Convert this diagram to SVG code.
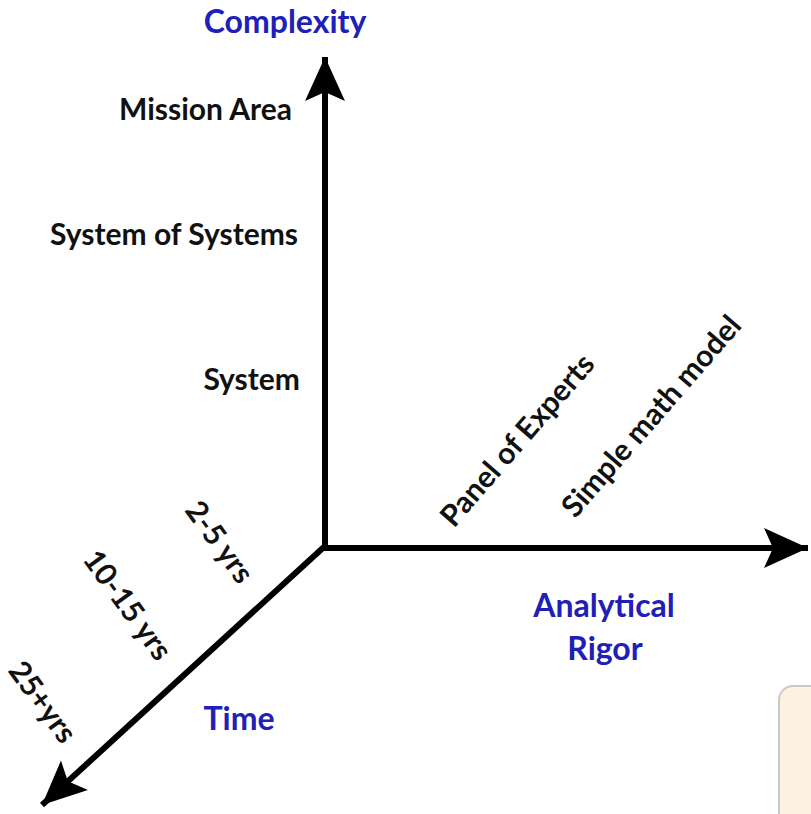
<svg xmlns="http://www.w3.org/2000/svg" width="811" height="814" viewBox="0 0 811 814">
  <style>
    .lbl { font-family: Lato, "Open Sans", "Liberation Sans", sans-serif; font-weight: bold; font-size: 30px; fill: #111; }
    .axis-title { fill: #2020b8; font-size: 32px; }
    .axis { stroke: #000; stroke-width: 6; fill: none; }
  </style>
  <defs>
    <marker id="head" markerUnits="userSpaceOnUse" markerWidth="50" markerHeight="50" viewBox="-46 -25 50 50" refX="0" refY="0" orient="auto">
      <path d="M0,0 L-44,-20 L-35,0 L-44,20 Z" fill="#000"/>
    </marker>
  </defs>
  <rect width="811" height="814" fill="#fff"/>

  <!-- note box peeking in at bottom right -->
  <g id="note-box">
    <rect x="779" y="686" width="80" height="160" rx="14" fill="#fdf1e1" stroke="#c9c9c9" stroke-width="2"/>
  </g>

  <!-- axes -->
  <g id="connectors">
    <line class="axis" x1="325" y1="549" x2="325" y2="57" marker-end="url(#head)"/>
    <line class="axis" x1="322" y1="548" x2="808" y2="548" marker-end="url(#head)"/>
    <line class="axis" x1="325" y1="546" x2="42" y2="805" marker-end="url(#head)"/>
  </g>

  <g id="complexity-axis">
    <text class="lbl axis-title" x="285" y="33" text-anchor="middle">Complexity</text>
    <text class="lbl" x="292" y="120" text-anchor="end">Mission Area</text>
    <text class="lbl" x="298" y="245" text-anchor="end">System of Systems</text>
    <text class="lbl" x="300" y="390" text-anchor="end">System</text>
  </g>

  <g id="rigor-axis">
    <text class="lbl axis-title" x="604" y="617" text-anchor="middle">Analytical</text>
    <text class="lbl axis-title" x="605" y="660" text-anchor="middle">Rigor</text>
    <text class="lbl" x="0" y="0" text-anchor="middle" dominant-baseline="central" transform="translate(516,439) rotate(-49)">Panel of Experts</text>
    <text class="lbl" x="0" y="0" text-anchor="middle" dominant-baseline="central" transform="translate(650,415) rotate(-49)">Simple math model</text>
  </g>

  <g id="time-axis">
    <text class="lbl axis-title" x="239" y="730" text-anchor="middle">Time</text>
    <text class="lbl" x="0" y="0" text-anchor="middle" dominant-baseline="central" transform="translate(221,541) rotate(54)">2-5 yrs</text>
    <text class="lbl" x="0" y="0" text-anchor="middle" dominant-baseline="central" transform="translate(129,604) rotate(54)">10-15 yrs</text>
    <text class="lbl" x="0" y="0" text-anchor="middle" dominant-baseline="central" transform="translate(44,701) rotate(54)">25+yrs</text>
  </g>
</svg>
